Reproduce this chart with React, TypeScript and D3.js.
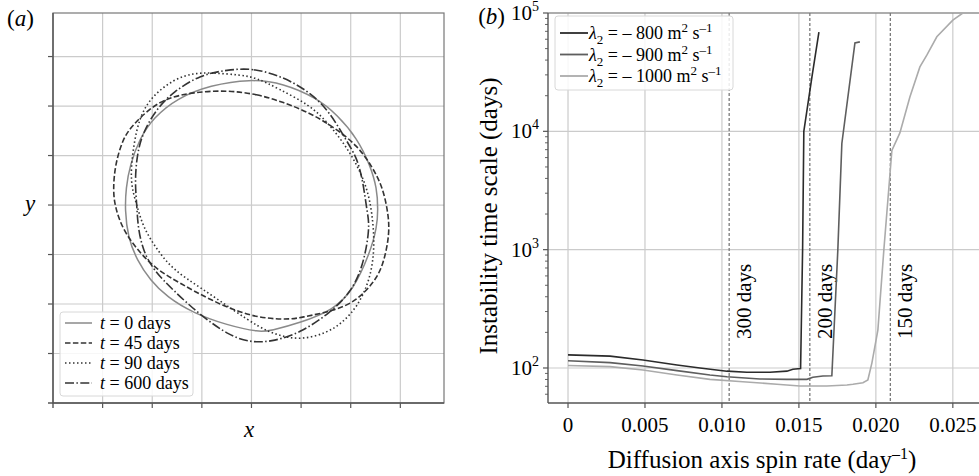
import React from "react";
import * as d3 from "d3";

const W = 979;
const H = 476;
const FONT = "Liberation Serif, Times New Roman, serif";

// -- panel (a): contour outlines in grid units --
const contour0: [number, number][] = [
  [3.97, 6.55], [4.64, 6.46], [5.32, 6.16], [5.73, 5.82], [6.13, 5.35], [6.39, 4.81],
  [6.53, 4.34], [6.55, 3.9], [6.53, 3.56], [6.39, 3.03], [6.05, 2.28], [5.65, 1.88],
  [4.98, 1.62], [4.38, 1.46], [4.17, 1.43], [3.51, 1.57], [2.82, 1.82], [2.3, 2.14],
  [1.96, 2.48], [1.69, 2.89], [1.51, 3.35], [1.45, 3.9], [1.47, 4.34], [1.55, 4.81],
  [1.75, 5.35], [2.02, 5.76], [2.5, 6.16], [3.17, 6.42],
];
const contour45: [number, number][] = [
  [3.51, 6.32], [4.11, 6.24], [4.64, 6.08], [5.18, 5.86], [5.65, 5.58], [6.13, 5.21],
  [6.45, 4.75], [6.65, 4.34], [6.75, 3.86], [6.79, 3.43], [6.65, 2.75], [6.45, 2.42],
  [6.13, 2.08], [5.73, 1.88], [4.98, 1.72], [4.68, 1.68], [3.97, 1.74], [3.17, 2.08],
  [2.56, 2.42], [2.1, 2.69], [1.75, 3.03], [1.41, 3.49], [1.25, 3.96], [1.21, 4.3],
  [1.25, 4.81], [1.41, 5.35], [1.61, 5.62], [1.96, 5.96], [2.3, 6.16], [2.82, 6.28],
];
const contour90: [number, number][] = [
  [2.82, 6.67], [3.23, 6.67], [3.77, 6.63], [4.11, 6.57], [4.52, 6.36], [5.18, 6.02],
  [5.52, 5.68], [5.85, 5.27], [6.13, 4.81], [6.33, 4.34], [6.43, 3.86], [6.49, 3.15],
  [6.39, 2.48], [6.13, 1.94], [5.85, 1.64], [5.52, 1.41], [4.98, 1.27], [4.52, 1.37],
  [4.17, 1.52], [3.63, 1.88], [2.96, 2.34], [2.42, 2.69], [2.1, 3.09], [1.81, 3.56],
  [1.69, 4.0], [1.55, 4.46], [1.61, 5.15], [1.75, 5.82], [2.02, 6.22], [2.42, 6.53],
];
const contour600: [number, number][] = [
  [3.51, 6.73], [4.03, 6.77], [4.64, 6.59], [5.18, 6.28], [5.58, 5.88], [5.93, 5.27],
  [6.13, 4.95], [6.25, 4.46], [6.33, 3.86], [6.39, 3.56], [6.25, 2.75], [5.99, 2.22],
  [5.58, 1.82], [4.98, 1.41], [4.38, 1.23], [3.97, 1.23], [3.57, 1.35], [2.96, 1.78],
  [2.42, 2.28], [2.02, 2.69], [1.81, 3.09], [1.71, 3.56], [1.69, 4.0], [1.65, 4.46],
  [1.69, 5.01], [1.81, 5.47], [2.1, 5.96], [2.42, 6.28], [2.96, 6.63],
];
const contourDays = ["0", "45", "90", "600"];
const gridA = [1, 2, 3, 4, 5, 6, 7];

// -- panel (b): instability time scale vs spin rate --
const spin800 = [0, 0.00273, 0.00487, 0.00708, 0.00857, 0.01032, 0.01162, 0.01312, 0.01422, 0.01461, 0.01511, 0.01524, 0.01532, 0.01585, 0.0163];
const time800 = [129, 126, 117, 106, 100, 94, 92, 92, 94, 97.5, 99, 1000, 10000, 29000, 69000];
const spin900 = [0, 0.00273, 0.00487, 0.00708, 0.00922, 0.01032, 0.01247, 0.01422, 0.01552, 0.01591, 0.01656, 0.01714, 0.01753, 0.01779, 0.01864, 0.01896];
const time900 = [115, 111, 104, 95, 87.3, 84.4, 80.7, 80.2, 80.2, 83.4, 85.6, 86, 1000, 7900, 55800, 57000];
const spin1000 = [0, 0.00273, 0.00487, 0.00708, 0.00922, 0.01136, 0.01357, 0.01506, 0.01682, 0.01812, 0.01851, 0.01916, 0.01948, 0.01974, 0.02013, 0.02052, 0.02104, 0.02156, 0.02221, 0.02286, 0.02331, 0.02396, 0.025, 0.02565];
const time1000 = [105, 102.6, 96.2, 87.3, 80.2, 76.6, 72.8, 70.4, 70.4, 71.8, 72.8, 75, 79.2, 110, 209, 1000, 6900, 9700, 19500, 35000, 44000, 63000, 87000, 100000];
const lambdaLabels = ["800", "900", "1000"];
const spinTicks = [0, 0.005, 0.01, 0.015, 0.02, 0.025];
const spinTickLabels = ["0", "0.005", "0.010", "0.015", "0.020", "0.025"];
const decades = [100, 1000, 10000, 100000];
const periodRates = [0.01047, 0.01571, 0.02094];
const periodDays = ["300", "200", "150"];

const App = () => {
  // -- scales --
  const xa = d3.scaleLinear().domain([0, 7.88]).range([53, 444]);
  const ya = d3.scaleLinear().domain([0, 7.88]).range([403, 13]);
  const xb = d3.scaleLinear().domain([-0.0013, 0.0267]).range([548, 979]);
  const yb = d3.scaleLog().domain([50.6, 1e5]).range([403, 13]);

  // smoothed closed outlines (the traced points are a bit noisy)
  const contourLine = d3
    .line<[number, number]>()
    .x((d) => xa(d[0]))
    .y((d) => ya(d[1]))
    .curve(d3.curveBasisClosed);

  const contours = [
    { pts: contour0, color: "#8a8a8a", dash: "none", w: 1.5 },
    { pts: contour45, color: "#333", dash: "5.5,2.4", w: 1.6 },
    { pts: contour90, color: "#333", dash: "1.5,2.5", w: 1.6 },
    { pts: contour600, color: "#333", dash: "9,2.4,1.5,2.4", w: 1.6 },
  ];

  const seriesLine = d3
    .line<[number, number]>()
    .x((d) => xb(d[0]))
    .y((d) => yb(d[1]));
  const series = [
    { x: spin800, y: time800, color: "#2b2b2b" },
    { x: spin900, y: time900, color: "#5e5e5e" },
    { x: spin1000, y: time1000, color: "#ababab" },
  ];

  const minorTicks = yb.ticks().filter((v) => !decades.includes(v));
  const gridColor = "#cbcbcb";
  const spine = "#555";

  return (
    <svg width={W} height={H} style={{ position: "absolute", left: 0, top: 0 }} fontFamily={FONT}>
      <rect width={W} height={H} fill="white" />
      <defs>
        <clipPath id="clipB">
          <rect x={548} y={13} width={W - 548} height={390} />
        </clipPath>
      </defs>

      {/* ---------- panel (a) ---------- */}
      <text x={7} y={26} fontSize={23} fontFamily={FONT}>
        (<tspan fontStyle="italic">a</tspan>)
      </text>
      {gridA.map((g) => (
        <g key={"ga" + g}>
          <line x1={xa(g)} x2={xa(g)} y1={13} y2={403} stroke={gridColor} strokeWidth={1.2} />
          <line x1={53} x2={444} y1={ya(g)} y2={ya(g)} stroke={gridColor} strokeWidth={1.2} />
          <line x1={xa(g)} x2={xa(g)} y1={403} y2={408} stroke={spine} strokeWidth={1.2} />
          <line x1={48} x2={53} y1={ya(g)} y2={ya(g)} stroke={spine} strokeWidth={1.2} />
        </g>
      ))}
      <rect x={53} y={13} width={391} height={390} fill="none" stroke="#777" strokeWidth={1.2} />
      <line x1={53} x2={53} y1={13} y2={408} stroke={spine} strokeWidth={1.4} />
      <line x1={48} x2={444} y1={403} y2={403} stroke={spine} strokeWidth={1.4} />
      {contours.map((c, i) => (
        <path
          key={"c" + i}
          d={contourLine(c.pts) || ""}
          fill="none"
          stroke={c.color}
          strokeWidth={c.w}
          strokeDasharray={c.dash}
        />
      ))}
      <text x={249} y={437} fontSize={23} fontStyle="italic" textAnchor="middle" fontFamily={FONT}>x</text>
      <text x={30} y={211} fontSize={23} fontStyle="italic" textAnchor="middle" fontFamily={FONT}>y</text>
      {/* legend (a) */}
      <rect x={60} y={312} width={133} height={84} rx={3} fill="white" fillOpacity={0.85} stroke="#d8d8d8" />
      {contours.map((c, i) => {
        const y = 323 + i * 20;
        return (
          <g key={"la" + i}>
            <line x1={65} x2={92} y1={y} y2={y} stroke={c.color} strokeWidth={c.w} strokeDasharray={c.dash} />
            <text x={100} y={y + 6} fontSize={18} fontFamily={FONT}>
              <tspan fontStyle="italic">t</tspan> = {contourDays[i]} days
            </text>
          </g>
        );
      })}

      {/* ---------- panel (b) ---------- */}
      <text x={505} y={24} fontSize={23} textAnchor="end" fontFamily={FONT}>
        (<tspan fontStyle="italic">b</tspan>)
      </text>
      {spinTicks.map((t, i) => (
        <g key={"xt" + i}>
          <line x1={xb(t)} x2={xb(t)} y1={13} y2={403} stroke={gridColor} strokeWidth={1.2} />
          <line x1={xb(t)} x2={xb(t)} y1={403} y2={408} stroke={spine} strokeWidth={1.2} />
          <text x={xb(t)} y={432} fontSize={21} textAnchor="middle" fontFamily={FONT}>{spinTickLabels[i]}</text>
        </g>
      ))}
      {decades.map((d) => (
        <g key={"yt" + d}>
          <line x1={548} x2={W} y1={yb(d)} y2={yb(d)} stroke={gridColor} strokeWidth={1.2} />
          <line x1={543} x2={548} y1={yb(d)} y2={yb(d)} stroke={spine} strokeWidth={1.2} />
          <text x={539} y={yb(d) + 7} fontSize={21} textAnchor="end" fontFamily={FONT}>
            10<tspan dy={-9} fontSize={14}>{Math.round(Math.log10(d))}</tspan>
          </text>
        </g>
      ))}
      {minorTicks.map((m) => (
        <line key={"mt" + m} x1={545} x2={548} y1={yb(m)} y2={yb(m)} stroke={spine} strokeWidth={0.9} />
      ))}
      <line x1={548} x2={W} y1={13} y2={13} stroke="#777" strokeWidth={1.2} />
      <line x1={548} x2={548} y1={13} y2={403} stroke={spine} strokeWidth={1.4} />
      <line x1={548} x2={W} y1={403} y2={403} stroke={spine} strokeWidth={1.4} />

      {periodRates.map((r, i) => (
        <g key={"p" + i}>
          <line x1={xb(r)} x2={xb(r)} y1={13} y2={403} stroke="#7a7a7a" strokeWidth={1.3} strokeDasharray="3,2" />
          <text transform={`translate(${xb(r) + 22},339) rotate(-90)`} fontSize={21} fontFamily={FONT}>
            {periodDays[i]} days
          </text>
        </g>
      ))}

      <g clipPath="url(#clipB)">
        {series.map((s, i) => (
          <path
            key={"s" + i}
            d={seriesLine(s.x.map((v, j) => [v, s.y[j]] as [number, number])) || ""}
            fill="none"
            stroke={s.color}
            strokeWidth={1.6}
          />
        ))}
      </g>

      {/* legend (b) */}
      <rect x={555} y={16} width={178} height={74} rx={3} fill="white" fillOpacity={0.85} stroke="#d8d8d8" />
      {series.map((s, i) => {
        const y = 33 + i * 21.5;
        return (
          <g key={"lb" + i}>
            <line x1={560} x2={588} y1={y} y2={y} stroke={s.color} strokeWidth={1.8} />
            <text x={589} y={y + 6} fontSize={18} fontFamily={FONT}>
              <tspan fontStyle="italic">λ</tspan>
              <tspan dy={5} fontSize={13}>2</tspan>
              <tspan dy={-5}> = – {lambdaLabels[i]} m</tspan>
              <tspan dy={-7} fontSize={13}>2</tspan>
              <tspan dy={7}> s</tspan>
              <tspan dy={-7} fontSize={13}>–1</tspan>
            </text>
          </g>
        );
      })}

      <text transform="translate(497,216) rotate(-90)" fontSize={25} textAnchor="middle" fontFamily={FONT}>
        Instability time scale (days)
      </text>
      <text x={762} y={468} fontSize={25} textAnchor="middle" fontFamily={FONT}>
        Diffusion axis spin rate (day<tspan dy={-9} fontSize={16}>–1</tspan>
        <tspan dy={9}>)</tspan>
      </text>
    </svg>
  );
};

export default App;
